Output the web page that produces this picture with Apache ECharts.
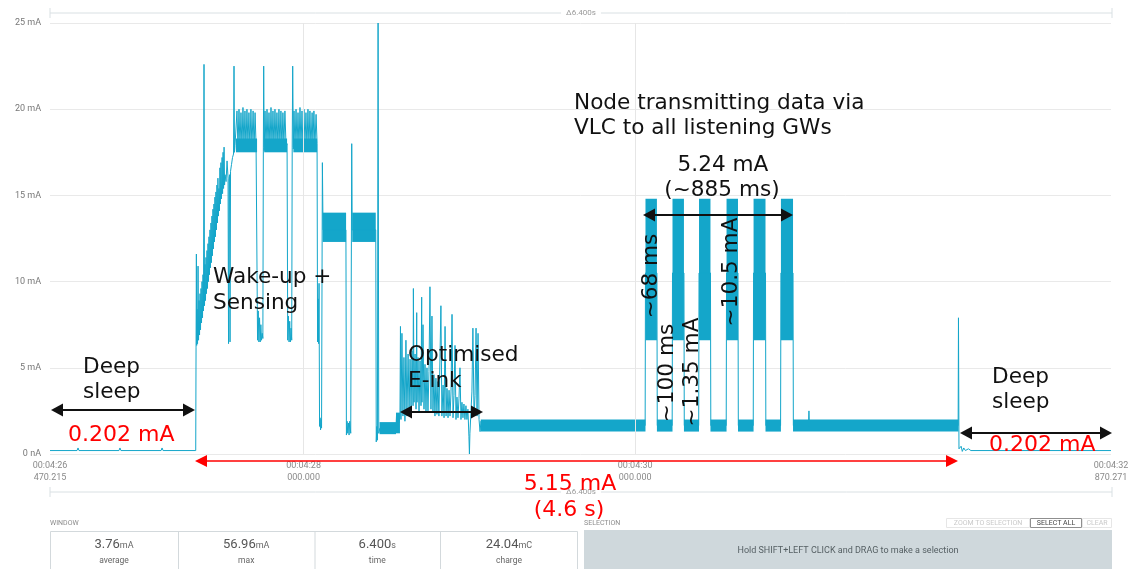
<!DOCTYPE html>
<html><head><meta charset="utf-8">
<script src="https://cdn.jsdelivr.net/npm/echarts@6/dist/echarts.min.js"></script>
<style>html,body{margin:0;padding:0;background:#fff}#c{width:1136px;height:569px}</style>
</head><body><div id="c"></div>
<script>
// time axis: ms since window start (window starts at 00:04:26.470215)
const windowStartMs = 266470.215;
const windowEndMs = 6400.056;
const xLabelValues = [0, 1529.785, 3529.785, 6400.056];
const xGridValues = [1529.785, 3529.785, 6400.056];
const yMax = 25, yStep = 5;

// current trace [ms, mA]
const traceSleepStart = [[0,0.2],[163,0.2],[169,0.35],[175,0.2],[416,0.2],[422,0.35],[428,0.2],[670,0.2],[676,0.35],[682,0.2],[879,0.2]];
const traceWakeUp = [[881,0.2],[881,6.2],[883,11.6],[885,6.3],[887,8.4],[890,6.4],[893,10.9],[896,6.6],[899,8.9],[902,6.9],[905,9.3],[908,7.2],[911,9.6],[914,7.6],[917,10.0],[920,7.9],[923,10.4],[926,8.3],[929,22.6],[932,8.6],[935,11.0],[938,8.9],[941,11.4],[944,9.3],[947,11.8],[950,9.6],[953,12.2],[956,10.0],[959,12.6],[962,10.4],[965,13.0],[968,10.8],[971,13.4],[974,11.1],[977,13.8],[980,11.5],[983,14.2],[986,11.9],[989,14.5],[992,12.3],[995,14.9],[998,12.6],[1001,15.2],[1004,13.0],[1007,15.6],[1010,13.4],[1013,16.0],[1016,13.8],[1019,15.4],[1022,14.1],[1025,16.6],[1028,14.5],[1031,16.9],[1034,14.8],[1038,17.2],[1041,15.1],[1044,17.5],[1047,15.4],[1050,17.8],[1053,15.6],[1056,16.2],[1062,15.8],[1068,17.0],[1074,16.0],[1077,6.4],[1080,15.9],[1083,16.2],[1086,6.5],[1089,16.4],[1095,16.8],[1101,17.2],[1107,17.4],[1110,22.5],[1113,17.5],[1116,17.9]];
const traceSensing = [[1122,18.0],[1128,19.9],[1134,17.7],[1140,20.0],[1146,17.8],[1152,19.8],[1158,17.7],[1164,20.1],[1170,17.8],[1176,19.9],[1182,17.7],[1188,20.0],[1194,17.9],[1200,19.8],[1206,17.7],[1212,20.0],[1218,17.8],[1225,19.9],[1231,17.7],[1237,19.8],[1243,17.9],[1249,18.0],
 [1252,6.6],[1256,8.3],[1260,6.5],[1264,7.9],[1268,6.5],[1272,7.5],[1276,6.6],[1280,7.0],[1284,6.7],[1287,17.8],[1289,22.5],[1292,17.6],
 [1297,19.9],[1303,17.7],[1309,20.0],[1315,17.8],[1321,19.8],[1327,17.7],[1333,20.1],[1339,17.8],[1345,19.9],[1351,17.7],[1357,20.0],[1363,17.9],[1369,19.8],[1375,17.7],[1381,20.0],[1387,17.8],[1393,19.9],[1399,17.7],[1405,19.8],[1411,17.9],[1417,19.9],[1424,17.8],[1430,18.0],
 [1434,6.6],[1438,8.0],[1442,6.5],[1446,7.7],[1450,6.5],[1454,7.3],[1458,6.6],[1461,17.8],[1464,22.5],[1468,17.7],
 [1472,19.9],[1478,17.7],[1484,20.0],[1490,17.8],[1496,19.8],[1502,17.7],[1508,20.1],[1514,17.8],[1520,19.9],[1526,17.7],[1532,20.0],[1538,17.9],[1544,19.8],[1550,17.7],[1556,20.0],[1562,17.8],[1568,19.9],[1574,17.7],[1581,19.8],[1586,17.9],[1592,19.9],[1598,17.8],[1605,19.7],[1611,18.0],
 [1614,6.5],[1617,9.0],[1620,6.4],[1623,9.9],[1626,1.6],[1629,2.1],[1632,1.4],[1635,2.0],[1638,1.5],[1643,16.9],[1647,13.0],[1785,13.0],
 [1788,1.1],[1792,1.9],[1796,1.2],[1800,1.8],[1804,1.1],[1808,1.9],[1814,1.2],[1820,18.0],[1823,13.0],[1965,13.0],
 [1968,0.7],[1972,1.6],[1975,0.8],[1979,25.0],[1983,1.2],[1990,1.5],[2087,1.5],[2090,2.2],[2105,1.8]];
const traceEink = [[2111,2.2],[2114,7.4],[2117,2.0],[2123,7.0],[2129,2.2],[2135,5.6],[2141,1.9],[2147,6.6],[2153,2.2],[2160,5.8],[2166,2.4],[2172,5.5],[2178,2.6],[2184,6.0],[2190,2.8],[2192,9.6],[2196,3.0],[2202,5.8],[2208,2.6],[2212,8.2],[2214,3.0],[2220,5.6],[2226,2.4],[2232,5.4],[2238,2.8],[2242,9.1],[2244,3.0],[2250,7.5],[2256,2.6],[2262,5.2],[2268,2.4],[2274,5.0],[2280,2.5],[2286,4.8],[2292,9.7],[2298,2.6],[2304,8.0],[2310,2.4],[2316,4.6],[2322,2.2],[2328,4.4],[2334,2.3],[2340,4.2],[2346,2.2],[2358,8.6],[2364,2.2],[2371,4.0],[2377,2.1],[2383,7.4],[2389,2.2],[2395,3.8],[2401,2.1],[2407,3.7],[2413,2.2],[2419,3.6],[2425,8.1],[2431,2.1],[2437,3.4],[2443,6.3],[2449,2.0],[2455,3.3],[2461,2.1],[2467,3.2],[2473,5.0],[2479,2.0],[2485,3.0],[2491,2.1],[2497,2.9],[2503,2.0],[2509,2.8],[2515,2.0],[2521,2.6],[2527,1.0],[2530,0.0],[2533,1.2],[2539,2.4],[2545,3.6],[2551,7.3],[2558,2.2],[2564,3.4],[2570,7.3],[2576,2.2],[2582,7.0],[2588,2.0],[2594,1.3],[2600,1.9],[2606,1.65]];
const traceVlc = [[3590,1.65],[3592,10.5],[3661,10.5],[3663,1.65],[3753,1.65],[3755,10.5],[3824,10.5],[3826,1.65],[3913,1.65],[3915,10.5],[3984,10.5],[3986,1.65],[4079,1.65],[4081,10.5],[4150,10.5],[4152,1.65],[4242,1.65],[4244,10.5],[4316,10.5],[4318,1.65],[4407,1.65],[4409,10.5],[4482,10.5],[4484,1.65],[4575,1.65],[4578,2.5],[4581,1.65],[5478,1.65],[5480,7.9],[5483,0.3]];
const traceSleepEnd = [[5489,0.2],[5496,0.45],[5503,0.15],[5512,0.35],[5522,0.2],[5540,0.3],[5555,0.2],[6400,0.2]];

// dense noise bands [ms start, ms end, low mA, high mA]
const noiseBands = [[1122,1249,17.5,18.3],[1292,1430,17.5,18.3],[1468,1611,17.5,18.3],[1645,1786,12.3,14.0],[1823,1965,12.3,14.0],[1988,2087,1.15,1.85],[2087,2111,1.2,2.4],[2598,3592,1.3,2.0],[3592,3661,6.6,14.8],[3661,3755,1.3,2.0],[3755,3824,6.6,14.8],[3824,3915,1.3,2.0],[3915,3984,6.6,14.8],[3984,4081,1.3,2.0],[4081,4150,6.6,14.8],[4150,4244,1.3,2.0],[4244,4316,6.6,14.8],[4316,4409,1.3,2.0],[4409,4482,6.6,14.8],[4482,5480,1.3,2.0]];

const windowValues = ['3.76','56.96','6.400','24.04'];
const windowUnits = ['mA','mA','s','mC'];
const windowLabels = ['average','max','time','charge'];

const TRACE = '#14a6ca';
const trace = [].concat(traceSleepStart, traceWakeUp, traceSensing, traceEink, traceVlc, traceSleepEnd);

function pad(n, w){ let s = String(n); while (s.length < w) s = '0' + s; return s; }
function fmtTime(v){
  const us = Math.round((windowStartMs + v) * 1000);
  const sec = Math.floor(us / 1e6);
  const rem = us - sec * 1e6;
  const m = Math.floor(sec / 60), s = sec % 60;
  return '00:' + pad(m,2) + ':' + pad(s,2) + '\n' + pad(Math.floor(rem/1000),3) + '.' + pad(rem%1000,3);
}

const chart = echarts.init(document.getElementById('c'), null, {renderer:'canvas'});
const FONT = '"DejaVu Sans", Verdana, sans-serif';
const UI = 'Roboto, "Liberation Sans", sans-serif';

function dblArrow(x1, x2, y, color, lw, hl, hw){
  return [
    {type:'line', shape:{x1:x1+hl-2, y1:y, x2:x2-hl+2, y2:y}, style:{stroke:color, lineWidth:lw}, z:20},
    {type:'polygon', shape:{points:[[x1,y],[x1+hl,y-hw],[x1+hl,y+hw]]}, style:{fill:color}, z:20},
    {type:'polygon', shape:{points:[[x2,y],[x2-hl,y-hw],[x2-hl,y+hw]]}, style:{fill:color}, z:20}
  ];
}
function txt(t, x, y, opt){
  opt = opt || {};
  return {type:'text', x:x, y:y, rotation: opt.rot || 0, z:21,
    style:{text:t, x:0, y:0, font: (opt.size||21.6)+'px '+(opt.family||FONT), fill: opt.color||'#111',
      textAlign: opt.align||'left', textVerticalAlign:'middle', backgroundColor: opt.bg, padding: opt.pad}};
}

const g = [];
// top delta bar
g.push({type:'line', shape:{x1:50,y1:13,x2:1112,y2:13}, style:{stroke:'#d9e0e3',lineWidth:1}});
g.push({type:'line', shape:{x1:50,y1:8,x2:50,y2:18}, style:{stroke:'#d9e0e3',lineWidth:1}});
g.push({type:'line', shape:{x1:1112,y1:8,x2:1112,y2:18}, style:{stroke:'#d9e0e3',lineWidth:1}});
g.push(txt('\u03946.400s', 581, 13, {size:8, family:UI, color:'#9a9a9a', align:'center', bg:'#fff', pad:[0,5]}));
// bottom delta bar
g.push({type:'line', shape:{x1:50,y1:492,x2:1112,y2:492}, style:{stroke:'#d9e0e3',lineWidth:1}});
g.push({type:'line', shape:{x1:50,y1:487,x2:50,y2:497}, style:{stroke:'#d9e0e3',lineWidth:1}});
g.push({type:'line', shape:{x1:1112,y1:487,x2:1112,y2:497}, style:{stroke:'#d9e0e3',lineWidth:1}});
g.push(txt('\u03946.400s', 581, 492, {size:8, family:UI, color:'#9a9a9a', align:'center', bg:'#fff', pad:[0,5]}));
// window panel
g.push(txt('WINDOW', 50, 523, {size:7, family:UI, color:'#8c8c8c'}));
g.push({type:'rect', shape:{x:50.5,y:531.5,width:527,height:45}, style:{fill:'#fff', stroke:'#d3d9dc', lineWidth:1}});
const cellEdges = [50, 178, 314.5, 440, 578];
for (let i = 1; i < 4; i++) g.push({type:'line', shape:{x1:cellEdges[i]+0.5,y1:531,x2:cellEdges[i]+0.5,y2:569}, style:{stroke:'#d3d9dc',lineWidth:1}});
for (let i = 0; i < 4; i++){
  const cx = (cellEdges[i]+cellEdges[i+1])/2;
  g.push({type:'text', x:cx, y:545, z:21, style:{text:'{v|'+windowValues[i]+'}{u|'+windowUnits[i]+'}', x:0,y:0, textAlign:'center', textVerticalAlign:'middle',
    rich:{v:{font:'13px '+UI, fill:'#555'}, u:{font:'9px '+UI, fill:'#666', padding:[2,0,0,0]}}}});
  g.push(txt(windowLabels[i], cx, 561, {size:8.5, family:UI, color:'#666', align:'center'}));
}
// selection panel
g.push(txt('SELECTION', 584, 523, {size:7, family:UI, color:'#8c8c8c'}));
g.push({type:'rect', shape:{x:946.5,y:518.5,width:83,height:9}, style:{fill:'#fff', stroke:'#e6e6e6', lineWidth:1}});
g.push(txt('ZOOM TO SELECTION', 988, 523, {size:7, family:UI, color:'#c9c9c9', align:'center'}));
g.push({type:'rect', shape:{x:1030.5,y:518.5,width:51,height:9}, style:{fill:'#fff', stroke:'#8f8f8f', lineWidth:1}});
g.push(txt('SELECT ALL', 1056, 523, {size:7, family:UI, color:'#444', align:'center'}));
g.push({type:'rect', shape:{x:1082.5,y:518.5,width:29,height:9}, style:{fill:'#fff', stroke:'#e6e6e6', lineWidth:1}});
g.push(txt('CLEAR', 1097, 523, {size:7, family:UI, color:'#c9c9c9', align:'center'}));
g.push({type:'rect', shape:{x:584,y:530,width:528,height:45}, style:{fill:'#cfd8dc'}});
g.push(txt('Hold SHIFT+LEFT CLICK and DRAG to make a selection', 848, 551, {size:9, family:UI, color:'#555f63', align:'center'}));

// annotations
g.push(txt('Deep', 83, 367));
g.push(txt('sleep', 83, 392));
g.push(...dblArrow(51, 195, 410, '#111', 2, 12, 6.5));
g.push(txt('0.202 mA', 68, 435, {size:22, color:'#ff0000'}));
g.push(txt('Wake-up +', 213, 277));
g.push(txt('Sensing', 213, 303));
g.push(txt('Optimised', 408, 355));
g.push(txt('E-ink', 408, 381));
g.push(...dblArrow(400, 483, 412, '#111', 2, 12, 6.5));
g.push(txt('Node transmitting data via', 574, 103));
g.push(txt('VLC to all listening GWs', 574, 128));
g.push(txt('5.24 mA', 723, 165, {align:'center'}));
g.push(txt('(~885 ms)', 722, 190, {align:'center'}));
g.push(...dblArrow(643, 793, 215, '#111', 2, 12, 6.5));
g.push(txt('~68 ms', 651.5, 276, {align:'center', rot:Math.PI/2}));
g.push(txt('~100 ms', 667, 373, {align:'center', rot:Math.PI/2}));
g.push(txt('~1.35 mA', 692.5, 372, {align:'center', rot:Math.PI/2}));
g.push(txt('~10.5 mA', 731.5, 272, {align:'center', rot:Math.PI/2}));
g.push(txt('Deep', 992, 377));
g.push(txt('sleep', 992, 402));
g.push(...dblArrow(960, 1112, 433, '#111', 2, 12, 6.5));
g.push(txt('0.202 mA', 989, 445, {size:22, color:'#ff0000'}));
g.push(...dblArrow(195, 958, 461, '#ff0000', 1.5, 12, 6));
g.push(txt('5.15 mA', 570, 484, {size:22, color:'#ff0000', align:'center'}));
g.push(txt('(4.6 s)', 569, 510, {size:22, color:'#ff0000', align:'center'}));

chart.setOption({
  animation: false,
  backgroundColor: '#fff',
  grid: {left:50, right:25, top:23, bottom:115, show:false},
  xAxis: {type:'value', min:0, max:windowEndMs,
    axisLine:{show:false}, axisTick:{show:false}, splitLine:{show:false},
    axisLabel:{customValues:xLabelValues, formatter:fmtTime, color:'#8a8a8a', fontSize:9, lineHeight:12, fontFamily:UI, margin:6, showMinLabel:true, showMaxLabel:true}},
  yAxis: {type:'value', min:0, max:yMax, interval:yStep,
    axisLine:{show:false}, axisTick:{show:false},
    splitLine:{lineStyle:{color:'#e9e9e9', width:1}},
    axisLabel:{formatter:v => v === 0 ? '0 nA' : v + ' mA', color:'#777', fontSize:9, fontFamily:UI, margin:9}},
  series: [
    {type:'line', data:[], z:1, silent:true,
      markLine:{silent:true, symbol:'none', label:{show:false}, lineStyle:{color:'#e6e6e6', type:'solid', width:1},
        data: xGridValues.map(v => ({xAxis:v}))}},
    {type:'custom', z:2, silent:true, data:noiseBands, encode:{x:[0,1], y:[2,3]},
      renderItem:(params, api) => {
        const p0 = api.coord([api.value(0), api.value(3)]);
        const p1 = api.coord([api.value(1), api.value(2)]);
        return {type:'rect', shape:{x:p0[0], y:p0[1], width:p1[0]-p0[0], height:p1[1]-p0[1]}, style:{fill:TRACE}};
      }},
    {type:'line', z:3, data:trace, showSymbol:false, symbol:'none', lineStyle:{color:TRACE, width:1}, clip:false}
  ],
  graphic: {elements: g}
});
</script></body></html>
